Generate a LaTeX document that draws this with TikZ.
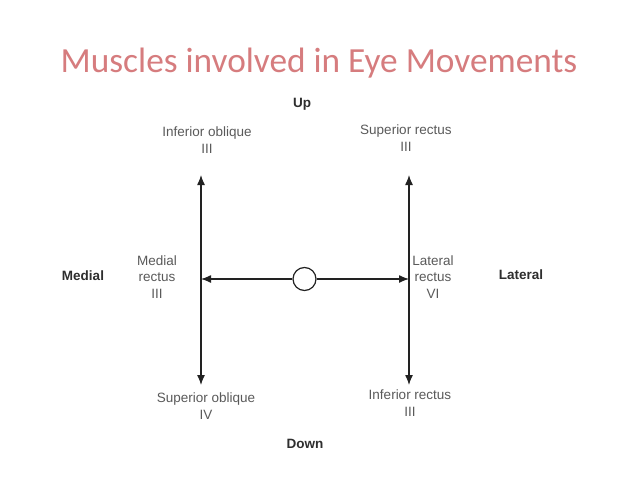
\documentclass[tikz,border=0pt]{standalone}
\usepackage{fontspec}
\setmainfont{Liberation Sans}
\newfontfamily\titlefont{Carlito}
\usetikzlibrary{arrows.meta}
\definecolor{titlecol}{HTML}{D67C7E}
\definecolor{labcol}{HTML}{5A5A5A}
\definecolor{dircol}{HTML}{2E2E2E}
\definecolor{linecol}{HTML}{222222}
\begin{document}
\begin{tikzpicture}[x=1pt,y=-1pt,
  lab/.style={font=\fontsize{13.5}{16.5}\selectfont, text=labcol, align=center, inner sep=0pt},
  dir/.style={font=\fontsize{13.5}{16}\selectfont\bfseries, text=dircol, inner sep=0pt},
  tip/.tip={Latex[length=10pt,width=8pt]},
  conn/.style={draw=linecol, line width=1.3pt, -tip},
  dconn/.style={draw=linecol, line width=1.3pt, tip-tip}]
\useasboundingbox[fill=white] (0,0) rectangle (638,479);
\node[font=\titlefont\fontsize{35.3}{40}\selectfont, text=titlecol, inner sep=0pt] (title) at (319,63) {Muscles involved in Eye Movements};
% axes
\coordinate (lt) at (201,175);
\coordinate (lb) at (201,385);
\coordinate (rt) at (409,175);
\coordinate (rb) at (409,385);
\coordinate (lm) at (201,279);
\coordinate (rm) at (409,279);
\node[circle, draw=linecol, line width=1.2pt, minimum size=23pt, inner sep=0pt, fill=white] (eye) at (304.5,279) {};
\draw[dconn] (lt) -- (lb);
\draw[dconn] (rt) -- (rb);
\draw[conn] (eye) -- (lm);
\draw[conn] (eye) -- (rm);
% direction labels
\node[dir] (up) at (302,104) {Up};
\node[dir] (down) at (305,444) {Down};
\node[dir] (medial) at (83,276) {Medial};
\node[dir] (lateral) at (521,275) {Lateral};
% muscle labels
\node[lab] (io) at (207,140) {Inferior oblique\\III};
\node[lab] (sr) at (406,138) {Superior rectus\\III};
\node[lab] (mr) at (157,277) {Medial\\rectus\\III};
\node[lab] (lr) at (433,277) {Lateral\\rectus\\VI};
\node[lab] (so) at (206,406) {Superior oblique\\IV};
\node[lab] (ir) at (410,403) {Inferior rectus\\III};
\end{tikzpicture}
\end{document}
